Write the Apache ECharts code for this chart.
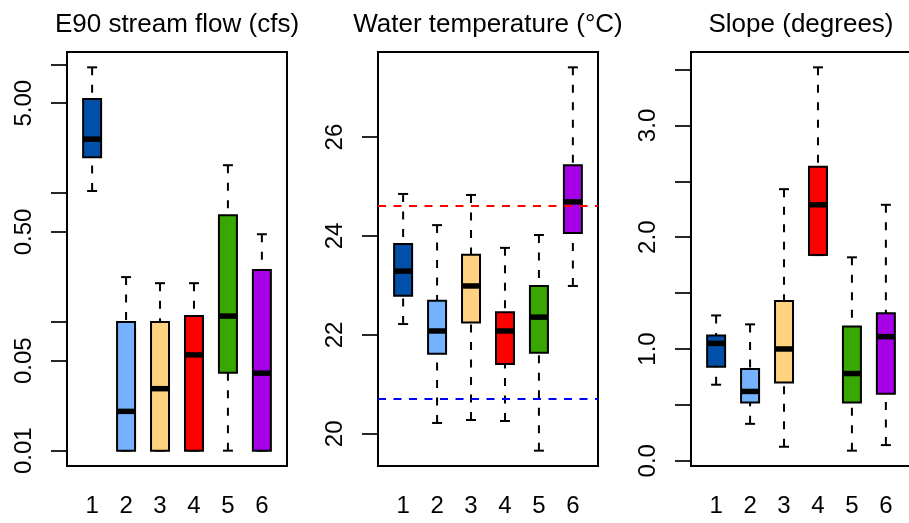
<!DOCTYPE html>
<html>
<head>
<meta charset="utf-8">
<title>boxplots</title>
<script src="https://cdn.jsdelivr.net/npm/echarts@6.0.0/dist/echarts.min.js"></script>
<style>
html, body {margin: 0; padding: 0; background: #fff;}
#main {width: 909px; height: 523px;}
</style>
</head>
<body>
<div id="main"></div>
<script>
// group names and fill colours
var groups = ['1', '2', '3', '4', '5', '6'];
var boxColors = ['#0050A9', '#75B3FF', '#FFD281', '#FF0000', '#38A700', '#A500E6'];

// each row: [lower whisker, Q1, median, Q3, upper whisker]
var flowStats = [
    [1.04, 1.90, 2.63, 5.40, 9.5],
    [0.01, 0.01, 0.0202, 0.10, 0.223],
    [0.01, 0.01, 0.0303, 0.10, 0.20],
    [0.01, 0.01, 0.0555, 0.111, 0.20],
    [0.01, 0.0403, 0.111, 0.675, 1.65],
    [0.01, 0.01, 0.040, 0.253, 0.48]
];
var tempStats = [
    [22.22, 22.79, 23.29, 23.84, 24.85],
    [20.22, 21.62, 22.08, 22.69, 24.22],
    [20.28, 22.25, 22.99, 23.62, 24.83],
    [20.26, 21.41, 22.08, 22.46, 23.76],
    [19.66, 21.64, 22.36, 22.99, 24.02],
    [22.99, 24.06, 24.69, 25.43, 27.41]
];
var slopeStats = [
    [0.68, 0.84, 1.05, 1.12, 1.30],
    [0.33, 0.52, 0.62, 0.82, 1.22],
    [0.125, 0.70, 1.00, 1.43, 2.43],
    [1.84, 1.84, 2.29, 2.63, 3.52],
    [0.09, 0.52, 0.78, 1.20, 1.82],
    [0.14, 0.60, 1.11, 1.32, 2.29]
];

// reference lines on the temperature panel
var tempUpperLine = 24.61;
var tempLowerLine = 20.71;

// axis ticks / labels
var flowTicks = [0.01, 0.05, 0.1, 0.5, 1, 5, 10];
var flowLabels = [0.01, 0.05, 0.5, 5];
var tempTicks = [20, 22, 24, 26];
var slopeTicks = [0, 0.5, 1, 1.5, 2, 2.5, 3, 3.5];
var slopeLabels = [0, 1, 2, 3];

var titles = ['E90 stream flow (cfs)', 'Water temperature (\u00B0C)', 'Slope (degrees)'];

var FONT = '"Liberation Sans", Arial, Helvetica, sans-serif';
var panelLeft = [67, 378, 691];
var panelTop = 52, panelW = 220, panelH = 414;

function log10(v) { return Math.log(v) / Math.LN10; }

// turn stats rows into [x, lo, q1, med, q3, hi]
function boxData(stats, tf) {
    return stats.map(function (row, i) {
        var r = [i + 1];
        row.forEach(function (v) { r.push(tf ? tf(v) : v); });
        return r;
    });
}

// R style range: data range widened by 4%
function rRange(rows) {
    var lo = Infinity, hi = -Infinity;
    rows.forEach(function (r) {
        for (var k = 1; k < r.length; k++) {
            lo = Math.min(lo, r[k]);
            hi = Math.max(hi, r[k]);
        }
    });
    var d = (hi - lo) * 0.04;
    return [lo - d, hi + d];
}

function renderBox(params, api) {
    var x = api.value(0);
    var lo = api.coord([x, api.value(1)]);
    var q1 = api.coord([x, api.value(2)]);
    var md = api.coord([x, api.value(3)]);
    var q3 = api.coord([x, api.value(4)]);
    var hi = api.coord([x, api.value(5)]);
    var bw = api.size([0.53, 0])[0];
    var cw = bw / 2 + 1;
    var cx = lo[0];
    // whiskers are drawn from the end toward the box, like R does
    var dash = {stroke: '#000', lineWidth: 2, lineDash: [8, 9.5]};
    var solid = {stroke: '#000', lineWidth: 2};
    return {
        type: 'group',
        children: [
            {type: 'line', shape: {x1: cx, y1: hi[1], x2: cx, y2: q3[1]}, style: dash},
            {type: 'line', shape: {x1: cx, y1: lo[1], x2: cx, y2: q1[1]}, style: dash},
            {type: 'line', shape: {x1: cx - cw / 2, y1: hi[1], x2: cx + cw / 2, y2: hi[1]}, style: solid},
            {type: 'line', shape: {x1: cx - cw / 2, y1: lo[1], x2: cx + cw / 2, y2: lo[1]}, style: solid},
            {type: 'rect', shape: {x: cx - bw / 2, y: q3[1], width: bw, height: q1[1] - q3[1]},
                style: {fill: boxColors[params.dataIndex], stroke: '#000', lineWidth: 2}},
            {type: 'line', shape: {x1: cx - bw / 2, y1: md[1], x2: cx + bw / 2, y2: md[1]},
                style: {stroke: '#000', lineWidth: 5.5}}
        ]
    };
}

var flowData = boxData(flowStats, log10);
var tempData = boxData(tempStats);
var slopeData = boxData(slopeStats);
var ranges = [rRange(flowData), rRange(tempData), rRange(slopeData)];

var grids = [], xAxes = [], yAxes = [], titleList = [];
for (var p = 0; p < 3; p++) {
    grids.push({
        left: panelLeft[p], top: panelTop, width: panelW, height: panelH,
        show: true, borderColor: '#000', borderWidth: 2, backgroundColor: 'transparent',
        containLabel: false, outerBoundsMode: 'none'
    });
    xAxes.push({
        type: 'value', gridIndex: p, min: 0.26, max: 6.74,
        axisLine: {show: false}, axisTick: {show: false}, splitLine: {show: false},
        axisLabel: {
            customValues: [1, 2, 3, 4, 5, 6], margin: 28,
            fontSize: 24, color: '#000', fontFamily: FONT,
            formatter: function (v) { return groups[Math.round(v) - 1]; }
        }
    });
    titleList.push({
        text: titles[p], left: panelLeft[p] + panelW / 2, top: 12, textAlign: 'center', padding: 0,
        textStyle: {fontSize: 26, fontWeight: 'normal', color: '#000', fontFamily: FONT}
    });
}

function yAxis(idx, ticks, labels, fmt) {
    return {
        type: 'value', gridIndex: idx, min: ranges[idx][0], max: ranges[idx][1],
        axisLine: {show: false}, splitLine: {show: false},
        axisTick: {show: true, inside: false, length: 16, customValues: ticks,
            lineStyle: {color: '#000', width: 1.7}},
        axisLabel: {customValues: labels, rotate: 90, margin: 31, fontSize: 24,
            color: '#000', fontFamily: FONT, formatter: fmt}
    };
}
yAxes.push(yAxis(0, flowTicks.map(log10), flowLabels.map(log10),
    function (v) { return Math.pow(10, v).toFixed(2); }));
yAxes.push(yAxis(1, tempTicks, tempTicks, function (v) { return String(Math.round(v)); }));
yAxes.push(yAxis(2, slopeTicks, slopeLabels, function (v) { return v.toFixed(1); }));

var series = [
    {
        type: 'line', xAxisIndex: 1, yAxisIndex: 1, data: [], silent: true, z: 1,
        markLine: {
            silent: true, symbol: 'none', label: {show: false},
            data: [
                {yAxis: tempUpperLine, lineStyle: {color: '#FF0000', type: [8, 7.5], width: 2}},
                {yAxis: tempLowerLine, lineStyle: {color: '#0000FF', type: [8, 7.5], width: 2}}
            ]
        }
    }
];
[flowData, tempData, slopeData].forEach(function (d, i) {
    series.push({
        type: 'custom', xAxisIndex: i, yAxisIndex: i, renderItem: renderBox,
        encode: {x: 0, y: [1, 2, 3, 4, 5]}, data: d, silent: true, z: 2
    });
});

var chart = echarts.init(document.getElementById('main'));
chart.setOption({
    animation: false,
    backgroundColor: '#fff',
    title: titleList,
    grid: grids,
    xAxis: xAxes,
    yAxis: yAxes,
    series: series
});
</script>
</body>
</html>
